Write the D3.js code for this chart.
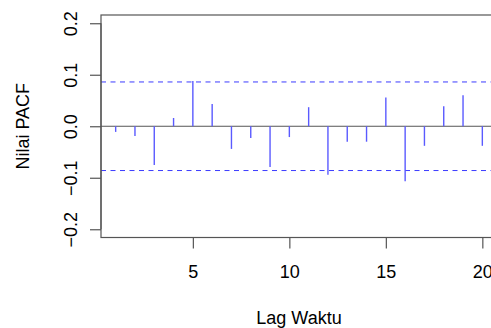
<!DOCTYPE html>
<html lang="id">
<head>
<meta charset="UTF-8">
<title>PACF</title>
<style>
  body, html { margin: 0; background: #fff; overflow: hidden; }
  text { font-family: "Liberation Sans", Arial, sans-serif; fill: #000; }
</style>
</head>
<body>
<div id="chart"></div>
<script src="https://cdn.jsdelivr.net/npm/d3@7"></script>
<script>
// PACF values by lag
const lags = d3.range(1, 21);
const pacf = [-0.011, -0.019, -0.075, 0.016, 0.088, 0.043, -0.044, -0.023, -0.079, -0.021,
              0.037, -0.094, -0.030, -0.030, 0.056, -0.107, -0.038, 0.039, 0.060, -0.038];
const ciLimit = 0.086;
const xTicks = [5, 10, 15, 20];
const yTicks = [-0.2, -0.1, 0.0, 0.1, 0.2];

const width = 491, height = 328;
const box = { left: 101, top: 15, right: 497, bottom: 237.5 };
const fontSize = 18;

const svg = d3.select("#chart").append("svg")
  .attr("width", width)
  .attr("height", height);

// R style: 4% padding on each side
const x = d3.scaleLinear().domain([0.24, 20.76]).range([box.left, box.right]);
const y = d3.scaleLinear().domain([-0.216, 0.216]).range([box.bottom, box.top]);

// zero line
svg.append("line")
  .attr("x1", box.left).attr("x2", box.right)
  .attr("y1", y(0)).attr("y2", y(0))
  .attr("stroke", "#555").attr("stroke-width", 1);

// confidence band
svg.selectAll(".ci")
  .data([ciLimit, -ciLimit])
  .enter().append("line")
  .attr("class", "ci")
  .attr("x1", box.left).attr("x2", box.right)
  .attr("y1", d => y(d)).attr("y2", d => y(d))
  .attr("stroke", "#3b3bff")
  .attr("stroke-width", 1)
  .attr("stroke-dasharray", "5,4.5");

// spikes
svg.selectAll(".spike")
  .data(lags)
  .enter().append("line")
  .attr("class", "spike")
  .attr("x1", d => x(d)).attr("x2", d => x(d))
  .attr("y1", y(0))
  .attr("y2", (d, i) => y(pacf[i]))
  .attr("stroke", "#5a5aff")
  .attr("stroke-width", 1.4);

// box
svg.append("rect")
  .attr("x", box.left).attr("y", box.top)
  .attr("width", box.right - box.left)
  .attr("height", box.bottom - box.top)
  .attr("fill", "none")
  .attr("stroke", "#555")
  .attr("stroke-width", 1.2);

// x axis
const xAxis = svg.append("g")
  .attr("transform", `translate(0,${box.bottom})`)
  .call(d3.axisBottom(x).tickValues(xTicks).tickSize(11).tickFormat(d3.format("d")));
xAxis.select(".domain")
  .attr("d", `M${x(5)},0H${x(20)}`)
  .attr("stroke", "#555").attr("stroke-width", 1.2);
xAxis.selectAll(".tick line").attr("stroke", "#555").attr("stroke-width", 1.2);
xAxis.selectAll(".tick text")
  .attr("y", 40).attr("dy", null)
  .attr("font-size", fontSize)
  .attr("font-family", "Liberation Sans, Arial, sans-serif");

// y axis
const yAxis = svg.append("g")
  .attr("transform", `translate(${box.left},0)`)
  .call(d3.axisLeft(y).tickValues(yTicks).tickSize(11).tickFormat(d3.format(".1f")));
yAxis.select(".domain")
  .attr("d", `M0,${y(-0.2)}V${y(0.2)}`)
  .attr("stroke", "#555").attr("stroke-width", 1.2);
yAxis.selectAll(".tick line").attr("stroke", "#555").attr("stroke-width", 1.2);
yAxis.selectAll(".tick text")
  .attr("x", 0).attr("dy", null)
  .attr("transform", "translate(-24,0) rotate(-90)")
  .attr("text-anchor", "middle")
  .attr("font-size", fontSize)
  .attr("font-family", "Liberation Sans, Arial, sans-serif");

// axis titles
svg.append("text")
  .attr("x", x(10.5)).attr("y", 324)
  .attr("text-anchor", "middle")
  .attr("font-size", fontSize)
  .text("Lag Waktu");

svg.append("text")
  .attr("transform", `translate(29,${y(0)}) rotate(-90)`)
  .attr("text-anchor", "middle")
  .attr("font-size", fontSize)
  .text("Nilai PACF");
</script>
</body>
</html>
